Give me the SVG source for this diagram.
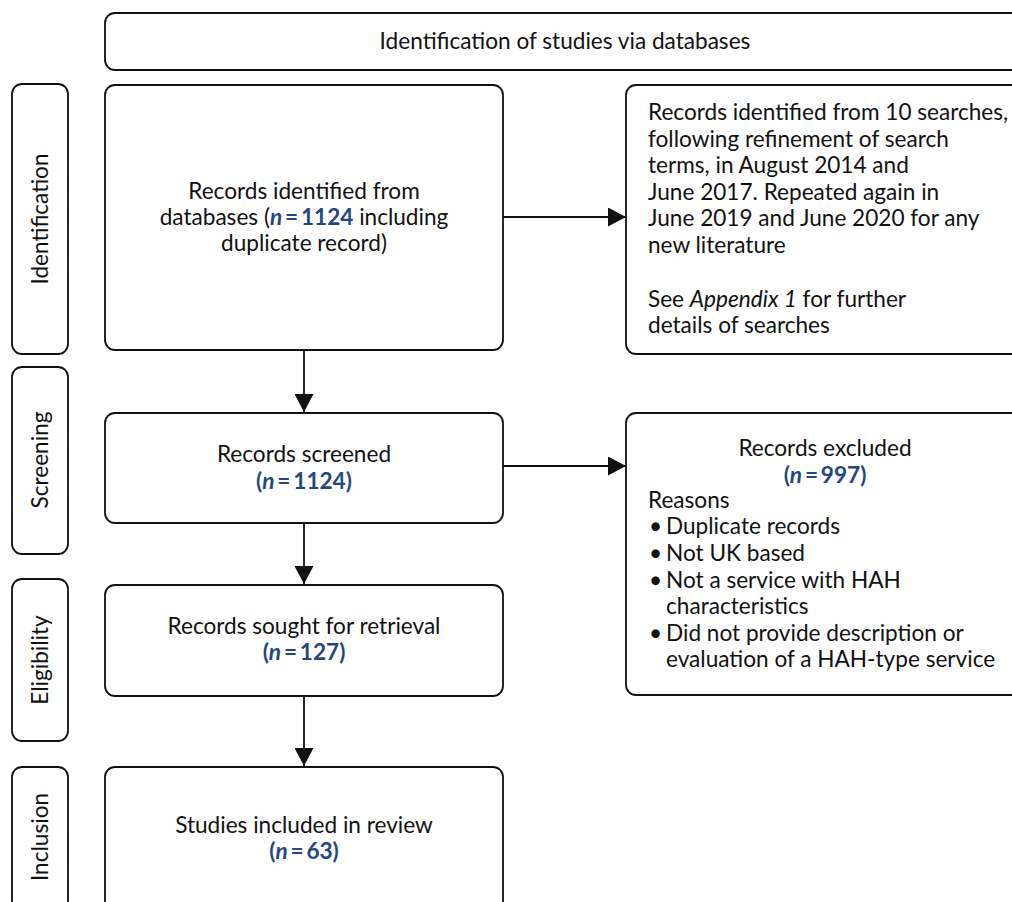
<svg xmlns="http://www.w3.org/2000/svg" width="1012" height="902" viewBox="0 0 1012 902">
<style>
.box{fill:#fff;stroke:#111;stroke-width:1.8}
.t{font-family:Lato,"Liberation Sans",sans-serif;font-size:22.6px;fill:#111}
.c{text-anchor:middle}
.n{fill:#25477f;font-weight:bold}
.i{font-style:italic}
.con{stroke:#111;stroke-width:1.8;fill:none}
</style>
<defs>
<marker id="ah" markerWidth="18" markerHeight="19" refX="18" refY="9.5" orient="auto" markerUnits="userSpaceOnUse">
<path d="M0,0 L18,9.5 L0,19 Z" fill="#111"/>
</marker>
</defs>
<rect width="1012" height="902" fill="#fff"/>
<g id="header">
<rect class="box" x="105" y="13" width="920" height="57" rx="10"/>
<text class="t c" x="565" y="49">Identification of studies via databases</text>
</g>
<g id="stage-identification">
<rect class="box" x="12" y="84" width="56" height="270" rx="10"/>
<text class="t c" transform="translate(48,219) rotate(-90)">Identification</text>
</g>
<g id="stage-screening">
<rect class="box" x="12" y="367" width="56" height="187" rx="10"/>
<text class="t c" transform="translate(48,460) rotate(-90)">Screening</text>
</g>
<g id="stage-eligibility">
<rect class="box" x="12" y="579" width="56" height="162" rx="10"/>
<text class="t c" transform="translate(48,660) rotate(-90)">Eligibility</text>
</g>
<g id="stage-inclusion">
<rect class="box" x="12" y="767" width="56" height="150" rx="10"/>
<text class="t c" transform="translate(48,837) rotate(-90)">Inclusion</text>
</g>
<g id="records-identified">
<rect class="box" x="105" y="85" width="398" height="265" rx="10"/>
<text class="t c" x="304" y="199">Records identified from</text>
<text class="t c" x="304" y="225">databases (<tspan class="n i">n</tspan><tspan class="n">&#8201;=&#8201;1124</tspan> including</text>
<text class="t c" x="304" y="251">duplicate record)</text>
</g>
<g id="search-details">
<rect class="box" x="626" y="85" width="399" height="269" rx="10"/>
<text class="t" x="648" y="120">Records identified from 10 searches,</text>
<text class="t" x="648" y="146.5">following refinement of search</text>
<text class="t" x="648" y="173">terms, in August 2014 and</text>
<text class="t" x="648" y="200">June 2017. Repeated again in</text>
<text class="t" x="648" y="226">June 2019 and June 2020 for any</text>
<text class="t" x="648" y="253">new literature</text>
<text class="t" x="648" y="307">See <tspan class="i">Appendix 1</tspan> for further</text>
<text class="t" x="648" y="333">details of searches</text>
</g>
<g id="records-screened">
<rect class="box" x="105" y="413" width="398" height="110" rx="10"/>
<text class="t c" x="304" y="462">Records screened</text>
<text class="t c" x="304" y="489"><tspan class="n">(</tspan><tspan class="n i">n</tspan><tspan class="n">&#8201;=&#8201;1124)</tspan></text>
</g>
<g id="records-excluded">
<rect class="box" x="626" y="413" width="399" height="282" rx="10"/>
<text class="t c" x="825" y="456">Records excluded</text>
<text class="t c" x="825" y="483"><tspan class="n">(</tspan><tspan class="n i">n</tspan><tspan class="n">&#8201;=&#8201;997)</tspan></text>
<text class="t" x="648" y="508">Reasons</text>
<text class="t" x="649" y="534">•</text><text class="t" x="666" y="534">Duplicate records</text>
<text class="t" x="649" y="561">•</text><text class="t" x="666" y="561">Not UK based</text>
<text class="t" x="649" y="588">•</text><text class="t" x="666" y="588">Not a service with HAH</text>
<text class="t" x="666" y="614">characteristics</text>
<text class="t" x="649" y="641">•</text><text class="t" x="666" y="641">Did not provide description or</text>
<text class="t" x="666" y="667">evaluation of a HAH-type service</text>
</g>
<g id="records-sought">
<rect class="box" x="105" y="585" width="398" height="111" rx="10"/>
<text class="t c" x="304" y="634">Records sought for retrieval</text>
<text class="t c" x="304" y="660"><tspan class="n">(</tspan><tspan class="n i">n</tspan><tspan class="n">&#8201;=&#8201;127)</tspan></text>
</g>
<g id="studies-included">
<rect class="box" x="105" y="767" width="398" height="150" rx="10"/>
<text class="t c" x="304" y="833">Studies included in review</text>
<text class="t c" x="304" y="859"><tspan class="n">(</tspan><tspan class="n i">n</tspan><tspan class="n">&#8201;=&#8201;63)</tspan></text>
</g>
<g id="connectors">
<line class="con" x1="503" y1="217" x2="626" y2="217" marker-end="url(#ah)"/>
<line class="con" x1="503" y1="466" x2="626" y2="466" marker-end="url(#ah)"/>
<line class="con" x1="304" y1="350" x2="304" y2="412" marker-end="url(#ah)"/>
<line class="con" x1="304" y1="523" x2="304" y2="584" marker-end="url(#ah)"/>
<line class="con" x1="304" y1="696" x2="304" y2="766" marker-end="url(#ah)"/>
</g>
</svg>
